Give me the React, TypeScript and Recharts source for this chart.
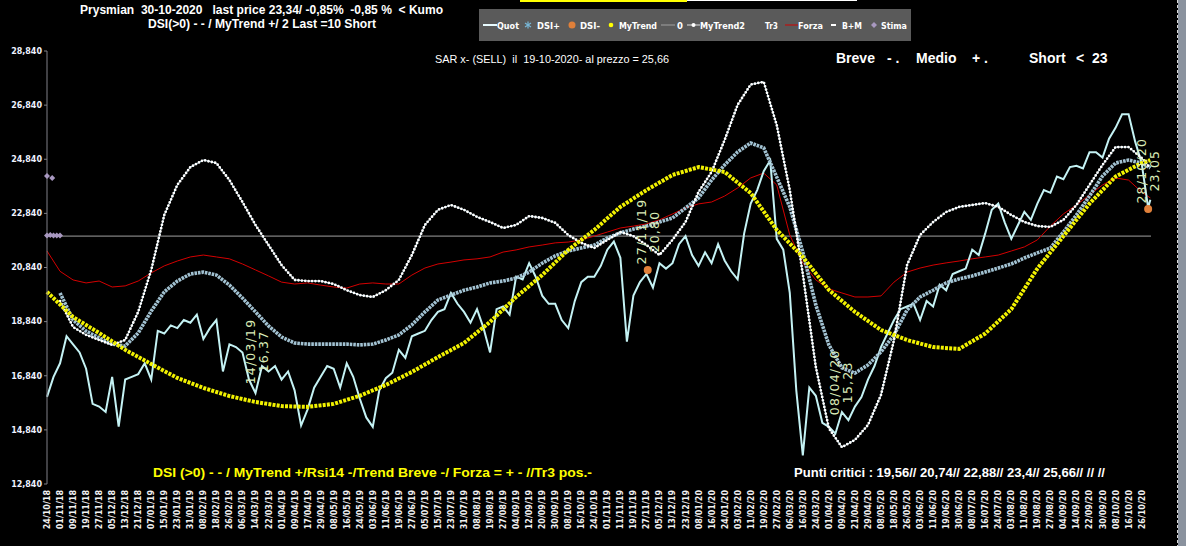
import { ComposedChart, Line, XAxis, YAxis, Scatter, ReferenceLine } from 'recharts'

// dates on the x axis, one every ~6 sessions
const DATE_LABELS = [
  '24/10/18', '01/11/18', '09/11/18', '19/11/18', '27/11/18', '05/12/18', '13/12/18', '21/12/18',
  '07/01/19', '15/01/19', '23/01/19', '31/01/19', '08/02/19', '18/02/19', '26/02/19', '06/03/19',
  '14/03/19', '22/03/19', '01/04/19', '09/04/19', '17/04/19', '29/04/19', '08/05/19', '16/05/19',
  '24/05/19', '03/06/19', '11/06/19', '19/06/19', '27/06/19', '05/07/19', '15/07/19', '23/07/19',
  '31/07/19', '08/08/19', '19/08/19', '27/08/19', '04/09/19', '12/09/19', '20/09/19', '30/09/19',
  '08/10/19', '16/10/19', '24/10/19', '01/11/19', '11/11/19', '19/11/19', '27/11/19', '05/12/19',
  '13/12/19', '23/12/19', '08/01/20', '16/01/20', '24/01/20', '03/02/20', '11/02/20', '19/02/20',
  '27/02/20', '06/03/20', '16/03/20', '24/03/20', '01/04/20', '09/04/20', '21/04/20', '29/04/20',
  '08/05/20', '18/05/20', '26/05/20', '03/06/20', '11/06/20', '19/06/20', '30/06/20', '08/07/20',
  '16/07/20', '24/07/20', '03/08/20', '11/08/20', '19/08/20', '27/08/20', '04/09/20', '14/09/20',
  '22/09/20', '30/09/20', '08/10/20', '16/10/20', '26/10/20',
]

const Y_TICKS = [12.84, 14.84, 16.84, 18.84, 20.84, 22.84, 24.84, 26.84, 28.84]
const X_MAX = 84.72
const LAST_POS = 84.67 // 30/10/20

// Quot, every half label step, last value = 30/10/20
const QUOTE = [
  16.06, 16.8, 17.3, 18.3, 18.0, 17.7, 17.1, 15.8, 15.7, 15.5,
  16.8, 14.96, 16.7, 16.8, 16.9, 17.3, 16.7, 18.5, 18.4, 18.7,
  18.6, 18.9, 18.8, 19.1, 18.2, 18.6, 18.9, 17.0, 18.0, 17.9,
  17.7, 16.7, 16.2, 17.2, 17.0, 17.2, 16.7, 17.0, 16.3, 15.0,
  15.6, 16.4, 16.8, 17.2, 17.1, 16.4, 17.3, 16.8, 16.0, 15.3,
  14.95, 16.3, 16.75, 16.95, 17.8, 17.5, 18.3, 18.4, 18.5, 18.9,
  19.2, 19.3, 19.9, 19.5, 19.2, 18.8, 19.3, 18.6, 17.7, 19.3,
  19.4, 19.1, 20.5, 20.4, 21.0, 20.5, 19.8, 19.5, 19.5, 18.9,
  18.6, 19.6, 20.3, 20.5, 20.5, 20.9, 21.5, 21.8, 21.2, 18.1,
  19.8, 20.3, 20.6, 20.1, 21.0, 20.8, 21.0, 21.7, 22.0, 21.3,
  20.9, 21.4, 21.0, 21.7, 21.1, 20.7, 20.4, 22.1, 23.2, 23.7,
  24.4, 24.8, 21.9, 21.5, 19.9, 16.3, 13.9, 16.4, 16.1, 15.1,
  14.95, 14.7, 15.5, 15.2, 15.7, 16.05, 16.7, 17.2, 17.9, 18.4,
  18.9, 19.3, 19.4, 19.5, 18.9, 19.6, 19.4, 20.2, 20.0, 20.6,
  20.7, 20.8, 21.5, 21.3, 22.1, 22.97, 23.2, 22.5, 21.9, 22.4,
  22.9, 22.6, 23.2, 23.7, 23.6, 24.2, 24.1, 24.55, 24.6, 24.5,
  25.1, 25.1, 24.9, 25.6, 26.0, 26.5, 26.5, 25.5, 24.7, 23.05,
  23.34,
]

// MyTrend (yellow), every 2 label steps
const MYTREND = [
  19.94, 19.01, 18.42, 17.8, 17.27, 16.76, 16.39, 16.09, 15.87, 15.72,
  15.69, 15.8, 16.1, 16.5, 16.98, 17.53, 18.05, 18.83, 19.75, 20.56,
  21.49, 22.23, 23.08, 23.7, 24.26, 24.55, 24.37, 23.59, 22.23, 21.23,
  20.01, 19.2, 18.53, 18.16, 17.9, 17.83, 18.4, 19.3, 20.8, 22.0,
  23.2, 24.2, 24.7, 24.81,
]

// MyTrend2 (white dots), from the 2nd label on
const MYTREND2 = [
  19.6, 18.64, 18.35, 18.16, 17.98, 18.16, 19.2, 20.75, 22.78, 23.89,
  24.55, 24.81, 24.7, 24.07, 23.26, 22.41, 21.67, 20.93, 20.38, 20.34,
  20.34, 20.23, 20.0, 19.82, 19.75, 20.0, 20.38, 21.3, 22.41, 22.97,
  23.15, 22.97, 22.71, 22.52, 22.3, 22.41, 22.74, 22.67, 22.49, 22.04,
  21.75, 21.56, 21.86, 22.15, 22.0, 21.67, 21.3, 21.86, 22.52, 23.63,
  24.37, 25.55, 26.85, 27.6, 27.7, 26.1, 23.7, 20.6, 17.16, 14.9,
  14.2, 14.47, 15.02, 16.13, 18.16, 20.93, 22.04, 22.52, 22.89, 23.08,
  23.15, 23.22, 23.08, 22.78, 22.52, 22.37, 22.34, 22.6, 23.15, 23.89,
  24.63, 25.29, 25.29, 24.89, 24.52,
]

// DSI+ (blue-grey squares), from the 2nd label on
const DSI_PLUS = [
  19.9, 18.9, 18.49, 18.24, 18.01, 17.94, 18.42, 19.23, 19.94, 20.34,
  20.6, 20.67, 20.56, 20.19, 19.71, 19.2, 18.68, 18.27, 18.05, 18.01,
  18.01, 18.01, 18.01, 17.98, 18.01, 18.16, 18.35, 18.72, 19.2, 19.64,
  19.82, 20.0, 20.12, 20.27, 20.34, 20.45, 20.67, 21.0, 21.27, 21.45,
  21.56, 21.67, 21.93, 22.12, 22.26, 22.37, 22.52, 22.67, 23.04, 23.41,
  24.07, 24.63, 25.11, 25.44, 25.26, 24.18, 23.08, 21.41, 19.45, 17.98,
  17.13, 16.94, 17.24, 17.72, 18.35, 19.27, 19.75, 20.0, 20.27, 20.42,
  20.53, 20.67, 20.82, 20.97, 21.19, 21.38, 21.56, 22.15, 22.78, 23.48,
  24.22, 24.7, 24.81, 24.7, 24.52,
]

// Forza (red), one per label
const FORZA = [
  21.45, 20.7, 20.38, 20.27, 20.34, 20.12, 20.16, 20.34, 20.64, 20.9,
  21.08, 21.23, 21.3, 21.23, 21.16, 20.97, 20.75, 20.53, 20.3, 20.23,
  20.27, 20.19, 20.12, 20.08, 20.23, 20.27, 20.23, 20.23, 20.56, 20.82,
  20.97, 21.04, 21.12, 21.16, 21.23, 21.41, 21.49, 21.6, 21.67, 21.75,
  21.78, 21.86, 22.0, 22.15, 22.3, 22.37, 22.45, 22.6, 22.82, 23.04,
  23.19, 23.26, 23.48, 23.78, 24.15, 24.33, 23.89, 22.04, 21.01, 20.38,
  20.05, 19.9, 19.75, 19.75, 19.79, 20.3, 20.67, 20.82, 20.93, 21.01,
  21.08, 21.16, 21.23, 21.3, 21.45, 21.6, 21.86, 22.37, 22.82, 23.15,
  23.52, 23.89, 24.15, 24.07, 23.63, 23.41,
]

const ZERO_LEVEL = 22.0

const DSI_MINUS_POS = [46.1, 84.5]
const DSI_MINUS_VALUES = [20.75, 23.0]

const STIMA_POS = [0, 0.4, 0, 0.25, 0.5, 0.75, 1.0]
const STIMA_VALUES = [24.22, 24.15, 22.02, 22.04, 22.02, 22.02, 22.02]

const NOTE_DATES = ['14/03/19', '27/11/19', '08/04/20', '28/10/20']
const NOTE_POS = [16, 46, 60.8, 84.35]
const NOTE_VALUES = [16.37, 20.8, 15.23, 23.05]

const toPoints = (values: number[], first: number, step: number) =>
  values.map((y, k) => ({ x: k === values.length - 1 ? LAST_POS : first + k * step, y }))

const comma = (v: number, d: number) => v.toFixed(d).replace('.', ',')

const DateTick = (props: any) => {
  const { x, payload } = props
  return (
    <text
      transform={`translate(${x + 3},490) rotate(-90)`}
      textAnchor="end"
      fill="#f2f2f2"
      fontSize={8}
      fontWeight="bold"
      fontFamily="DejaVu Sans, Verdana, sans-serif"
    >
      {DATE_LABELS[payload.value]}
    </text>
  )
}

const NoteShape = (props: any) => {
  const { cx, cy, payload } = props
  return (
    <g fill="#dcecb8" fontSize={12.5} fontFamily="DejaVu Sans, sans-serif" letterSpacing={1.2}>
      <text transform={`translate(${cx},${cy - 37}) rotate(-90)`} textAnchor="middle">{payload.date}</text>
      <text transform={`translate(${cx + 13},${cy - 37}) rotate(-90)`} textAnchor="middle">{payload.label}</text>
    </g>
  )
}

const Diamond = (props: any) => {
  const { cx, cy } = props
  return <polygon points={`${cx},${cy - 3} ${cx + 3},${cy} ${cx},${cy + 3} ${cx - 3},${cy}`} fill="#a898c0" />
}

const OrangeDot = (props: any) => <circle cx={props.cx} cy={props.cy} r={4} fill="#e0803a" />

export default function App() {
  const quote = toPoints(QUOTE, 0, 0.5)
  const myTrend = toPoints(MYTREND, 0, 2)
  const myTrend2 = toPoints(MYTREND2, 1, 1)
  const dsiPlus = toPoints(DSI_PLUS, 1, 1)
  const forza = toPoints(FORZA, 0, 1)
  const dsiMinus = DSI_MINUS_POS.map((x, k) => ({ x, y: DSI_MINUS_VALUES[k] }))
  const stima = STIMA_POS.map((x, k) => ({ x, y: STIMA_VALUES[k] }))
  const notes = NOTE_POS.map((x, k) => ({
    x,
    y: NOTE_VALUES[k],
    date: NOTE_DATES[k],
    label: comma(NOTE_VALUES[k], 2),
  }))

  const white = '#ffffff'
  const boldSans = 'Liberation Sans, Arial, sans-serif'
  const legendFont = 'DejaVu Sans, Verdana, sans-serif'

  return (
    <div style={{ position: 'fixed', left: 0, top: 0, width: 1186, height: 546, background: '#000', overflow: 'hidden' }}>
      <ComposedChart width={1186} height={546} margin={{ top: 51, right: 35, bottom: 0, left: 0 }}>
        <XAxis
          type="number"
          dataKey="x"
          domain={[0, X_MAX]}
          ticks={DATE_LABELS.map((_, i) => i)}
          interval={0}
          height={62}
          tick={<DateTick />}
          axisLine={false}
          tickLine={false}
        />
        <YAxis
          type="number"
          dataKey="y"
          domain={[12.84, 28.84]}
          ticks={Y_TICKS}
          width={47}
          tickSize={3}
          tickMargin={2}
          axisLine={{ stroke: '#808088' }}
          tickLine={{ stroke: '#808088' }}
          tickFormatter={(v: number) => comma(v, 3)}
          tick={{ fill: '#eef2ff', fontSize: 8, fontWeight: 'bold', fontFamily: legendFont }}
        />
        <ReferenceLine y={ZERO_LEVEL} stroke="#a0a0a0" strokeWidth={1} />
        <Line data={forza} dataKey="y" stroke="#d40000" strokeWidth={1} dot={false} isAnimationActive={false} />
        <Line data={quote} dataKey="y" stroke="#c4f2f4" strokeWidth={2} dot={false} isAnimationActive={false} />
        <Line data={dsiPlus} dataKey="y" stroke="#a2c2d2" strokeWidth={3.6} strokeDasharray="2.6 0.9" dot={false} isAnimationActive={false} />
        <Line data={myTrend2} dataKey="y" stroke="#a8d4e4" strokeWidth={1} dot={false} isAnimationActive={false} />
        <Line data={myTrend2} dataKey="y" stroke={white} strokeWidth={2.8} strokeDasharray="0 3.4" strokeLinecap="round" dot={false} isAnimationActive={false} />
        <Line data={myTrend} dataKey="y" stroke="#f2f200" strokeWidth={4} strokeDasharray="3 1.2" dot={false} isAnimationActive={false} />
        <Scatter data={stima} dataKey="y" shape={<Diamond />} isAnimationActive={false} />
        <Scatter data={dsiMinus} dataKey="y" shape={<OrangeDot />} isAnimationActive={false} />
        <Scatter data={notes} dataKey="y" shape={<NoteShape />} isAnimationActive={false} />
      </ComposedChart>

      <svg width={1186} height={546} style={{ position: 'absolute', left: 0, top: 0, pointerEvents: 'none' }}>
        {/* remains of a bar above the frame */}
        <rect x={520} y={0} width={167} height={2} fill="#ffff00" />
        <rect x={687} y={0} width={170} height={1} fill="#ffffff" />

        <g fill={white} fontFamily={boldSans} fontWeight="bold" fontSize={12} style={{ whiteSpace: 'pre' }}>
          <text x={80} y={14} textLength={363} lengthAdjust="spacingAndGlyphs" xmlSpace="preserve">
            {'Prysmian  30-10-2020   last price 23,34/ -0,85%  -0,85 %  < Kumo'}
          </text>
          <text x={148} y={28} textLength={228} lengthAdjust="spacingAndGlyphs" xmlSpace="preserve">
            {'DSI(>0) - - / MyTrend +/ 2 Last =10 Short'}
          </text>
        </g>

        {/* legend */}
        <rect x={479} y={9} width={432} height={32} fill="#5a5a5a" />
        <line x1={483} x2={497} y1={25} y2={25} stroke="#e8fbff" strokeWidth={2} />
        <g stroke="#78b8d8" strokeWidth={1.2}>
          <line x1={528} x2={528} y1={21.5} y2={28.5} />
          <line x1={525} x2={531} y1={23} y2={27} />
          <line x1={525} x2={531} y1={27} y2={23} />
        </g>
        <circle cx={572} cy={25} r={3.5} fill="#e0803a" />
        <circle cx={611} cy={25} r={2.3} fill="#ffff00" />
        <line x1={661} x2={675} y1={25} y2={25} stroke="#a0a0a0" />
        <line x1={687} x2={700} y1={25} y2={25} stroke="#e0e0e0" />
        <circle cx={693.5} cy={25} r={2} fill={white} />
        <line x1={785} x2={798} y1={25} y2={25} stroke="#d00000" />
        <line x1={831} x2={836} y1={25} y2={25} stroke={white} strokeWidth={2} />
        <polygon points="874,22 877,25 874,28 871,25" fill="#a898c0" />
        <g fill={white} fontFamily={legendFont} fontWeight="bold" fontSize={8.5}>
          <text x={497} y={28.5} textLength={22} lengthAdjust="spacingAndGlyphs">Quot</text>
          <text x={537} y={28.5} textLength={23} lengthAdjust="spacingAndGlyphs">DSI+</text>
          <text x={580} y={28.5} textLength={20} lengthAdjust="spacingAndGlyphs">DSI-</text>
          <text x={619} y={28.5} textLength={38} lengthAdjust="spacingAndGlyphs">MyTrend</text>
          <text x={677} y={28.5}>0</text>
          <text x={700} y={28.5} textLength={45} lengthAdjust="spacingAndGlyphs">MyTrend2</text>
          <text x={765} y={28.5} textLength={13} lengthAdjust="spacingAndGlyphs">Tr3</text>
          <text x={798} y={28.5} textLength={25} lengthAdjust="spacingAndGlyphs">Forza</text>
          <text x={842} y={28.5} textLength={20} lengthAdjust="spacingAndGlyphs">B+M</text>
          <text x={881} y={28.5} textLength={26} lengthAdjust="spacingAndGlyphs">Stima</text>
        </g>

        <text x={435} y={62.5} fill={white} fontFamily="Liberation Sans Narrow, Liberation Sans, Arial, sans-serif" fontSize={11} textLength={234} lengthAdjust="spacingAndGlyphs" xmlSpace="preserve">
          {'SAR x- (SELL)  il  19-10-2020- al prezzo = 25,66'}
        </text>

        <g fill={white} fontFamily={boldSans} fontWeight="bold" fontSize={14}>
          <text x={836} y={63}>Breve</text>
          <text x={887} y={63} xmlSpace="preserve">{'- .'}</text>
          <text x={916} y={63}>Medio</text>
          <text x={972} y={63} xmlSpace="preserve">{'+ .'}</text>
          <text x={1029} y={63}>Short</text>
          <text x={1076} y={63}>{'<'}</text>
          <text x={1092} y={63}>23</text>
        </g>

        <text x={153} y={477} fill="#ffff00" fontFamily={boldSans} fontWeight="bold" fontSize={12} textLength={439} lengthAdjust="spacingAndGlyphs" xmlSpace="preserve">
          {'DSI (>0) - - / MyTrend +/Rsi14 -/Trend Breve -/ Forza = + - //Tr3 pos.-'}
        </text>
        <text x={794} y={477} fill={white} fontFamily={boldSans} fontWeight="bold" fontSize={12} textLength={311} lengthAdjust="spacingAndGlyphs" xmlSpace="preserve">
          {'Punti critici : 19,56// 20,74// 22,88// 23,4// 25,66// // //'}
        </text>

        {/* window edge on the right */}
        <rect x={1178} y={0} width={8} height={546} fill="#8a929e" />
        <line x1={1177.5} x2={1177.5} y1={0} y2={546} stroke="#d8d8d8" strokeDasharray="3 2" />
      </svg>
    </div>
  )
}
